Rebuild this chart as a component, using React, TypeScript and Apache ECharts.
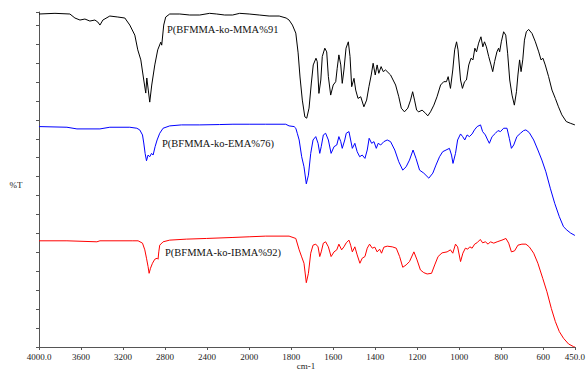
import React, { useEffect, useRef } from "react";
import * as echarts from "echarts";

// Tick marks of the (split-scale) wavenumber axis
const tickWavenumbers = [4000, 3600, 3200, 2800, 2400, 2000, 1800, 1600, 1400, 1200, 1000, 800, 600, 450];
const tickLabels = ["4000.0", "3600", "3200", "2800", "2400", "2000", "1800", "1600", "1400", "1200", "1000", "800", "600", "450.0"];

const seriesNames = ["P(BFMMA-ko-MMA%91", "P(BFMMA-ko-EMA%76)", "P(BFMMA-ko-IBMA%92)"];

// P(BFMMA-ko-MMA%91) – black
const wnMMA = [4000, 3848, 3706, 3658, 3610, 3563, 3516, 3468, 3440, 3420, 3392, 3326, 3250, 3183, 3136, 3088, 3060, 3031, 3003, 2984, 2974, 2960, 2946, 2927, 2898, 2870, 2841, 2832, 2813, 2794, 2756, 2660, 2566, 2470, 2376, 2309, 2233, 2157, 2090, 2000, 1952, 1905, 1857, 1824, 1810, 1794, 1778, 1767, 1758, 1747, 1735, 1726, 1715, 1704, 1695, 1682, 1676, 1668, 1659, 1652, 1640, 1631, 1623, 1612, 1600, 1588, 1581, 1573, 1564, 1557, 1549, 1539, 1528, 1520, 1512, 1501, 1493, 1482, 1469, 1454, 1441, 1430, 1419, 1410, 1400, 1391, 1383, 1372, 1362, 1351, 1327, 1303, 1288, 1276, 1261, 1245, 1232, 1222, 1213, 1203, 1193, 1177, 1161, 1150, 1137, 1121, 1106, 1089, 1074, 1061, 1053, 1042, 1031, 1022, 1013, 1006, 994, 985, 975, 966, 955, 944, 935, 926, 918, 908, 897, 888, 880, 871, 860, 849, 841, 832, 821, 813, 808, 800, 789, 779, 770, 760, 749, 738, 728, 721, 713, 706, 698, 690, 681, 670, 654, 638, 622, 611, 602, 591, 575, 559, 543, 528, 512, 491, 472, 450];
const tMMA = [99.4, 99.6, 99.4, 98.2, 97.6, 97.9, 97.3, 97.6, 97.0, 96.1, 97.6, 98.8, 98.5, 98.2, 96.1, 93.1, 88.7, 85.7, 79.7, 75.8, 80.3, 76.7, 73.1, 78.2, 84.2, 88.7, 91.0, 90.1, 96.1, 98.5, 99.4, 99.4, 99.1, 99.1, 99.6, 99.4, 99.1, 99.1, 99.6, 99.4, 99.1, 98.8, 98.8, 98.2, 97.6, 96.1, 93.7, 87.8, 80.6, 73.7, 68.7, 68.3, 71.3, 78.8, 84.2, 86.2, 85.2, 75.7, 79.7, 86.7, 89.2, 88.1, 80.7, 75.2, 78.2, 79.2, 83.2, 87.2, 84.2, 78.7, 82.7, 89.2, 91.1, 86.7, 77.7, 80.2, 76.7, 74.2, 74.7, 71.7, 73.7, 77.7, 81.2, 84.7, 81.2, 84.2, 81.7, 83.7, 82.2, 82.7, 81.2, 78.2, 74.7, 71.3, 70.2, 71.3, 73.7, 76.2, 73.7, 70.7, 70.2, 70.7, 69.8, 69.0, 70.2, 72.2, 74.7, 78.2, 79.2, 79.2, 80.7, 77.2, 82.7, 88.7, 91.1, 88.7, 79.7, 77.2, 79.2, 79.7, 84.2, 86.2, 85.7, 89.2, 88.1, 90.7, 92.6, 89.6, 91.1, 89.6, 86.7, 84.2, 82.2, 85.2, 88.1, 89.2, 88.1, 91.1, 94.1, 93.1, 87.7, 79.7, 75.2, 72.2, 76.2, 81.2, 85.7, 82.2, 85.7, 91.6, 94.1, 94.8, 93.6, 91.1, 88.1, 85.7, 86.2, 84.2, 80.7, 76.7, 74.2, 71.7, 69.3, 67.3, 66.8, 66.3];

// P(BFMMA-ko-EMA%76) – blue
const wnEMA = [4000, 3734, 3639, 3420, 3326, 3136, 3069, 3041, 3015, 3003, 2990, 2977, 2962, 2946, 2929, 2914, 2895, 2876, 2851, 2819, 2756, 2644, 2470, 2281, 2154, 2000, 1921, 1826, 1810, 1786, 1778, 1771, 1762, 1750, 1739, 1728, 1718, 1707, 1696, 1683, 1672, 1664, 1657, 1647, 1636, 1623, 1610, 1596, 1583, 1573, 1564, 1557, 1545, 1538, 1525, 1517, 1509, 1497, 1486, 1474, 1462, 1449, 1438, 1429, 1417, 1406, 1395, 1386, 1374, 1359, 1343, 1327, 1307, 1288, 1269, 1253, 1237, 1220, 1206, 1189, 1169, 1145, 1126, 1111, 1094, 1079, 1063, 1047, 1037, 1030, 1018, 1008, 994, 984, 974, 963, 952, 939, 928, 915, 899, 889, 876, 865, 857, 844, 828, 816, 804, 789, 773, 762, 752, 741, 726, 709, 694, 683, 667, 646, 626, 607, 588, 567, 546, 524, 504, 488, 470, 450];
const tEMA = [65.8, 65.6, 65.1, 65.1, 65.6, 65.6, 65.3, 64.8, 63.3, 60.9, 57.8, 55.6, 57.3, 56.8, 57.8, 57.3, 59.8, 61.8, 63.8, 65.3, 66.0, 66.3, 66.3, 66.4, 66.5, 66.5, 66.5, 66.5, 66.0, 65.8, 65.3, 63.8, 61.8, 56.8, 53.8, 48.7, 51.3, 57.8, 61.8, 62.8, 60.8, 57.8, 59.8, 63.3, 63.8, 61.8, 57.8, 59.8, 60.3, 62.8, 61.3, 59.3, 61.8, 63.8, 64.3, 61.8, 59.3, 60.8, 58.3, 56.8, 57.3, 56.3, 58.8, 62.3, 60.8, 61.3, 59.3, 60.8, 60.3, 61.3, 61.8, 61.3, 58.8, 55.3, 52.8, 53.8, 55.8, 58.8, 56.3, 52.8, 51.9, 50.4, 51.9, 54.3, 56.8, 58.3, 58.8, 59.3, 57.3, 54.8, 57.8, 61.8, 63.6, 62.8, 61.8, 63.3, 62.8, 63.6, 64.8, 65.8, 66.3, 64.3, 63.3, 61.8, 60.8, 62.8, 63.8, 64.6, 64.3, 65.3, 65.3, 62.3, 59.3, 60.3, 62.8, 63.8, 64.6, 64.8, 64.0, 61.8, 58.8, 55.8, 52.3, 47.4, 42.9, 38.9, 35.9, 34.9, 34.0, 33.3];

// P(BFMMA-ko-IBMA%92) – red
const wnIBMA = [4000, 3734, 3449, 3420, 3107, 3057, 3015, 2993, 2977, 2962, 2952, 2939, 2920, 2898, 2876, 2867, 2860, 2851, 2819, 2756, 2597, 2407, 2154, 2000, 1921, 1810, 1778, 1762, 1750, 1739, 1728, 1718, 1707, 1696, 1683, 1672, 1664, 1657, 1647, 1636, 1623, 1610, 1596, 1583, 1573, 1560, 1549, 1538, 1525, 1517, 1509, 1497, 1486, 1473, 1462, 1449, 1438, 1427, 1414, 1402, 1391, 1379, 1370, 1359, 1343, 1319, 1300, 1284, 1269, 1253, 1237, 1216, 1201, 1185, 1169, 1153, 1132, 1117, 1101, 1082, 1058, 1042, 1031, 1018, 1008, 994, 983, 971, 960, 950, 939, 927, 916, 900, 889, 876, 863, 852, 836, 820, 797, 778, 765, 752, 737, 721, 702, 683, 667, 646, 626, 603, 583, 562, 543, 524, 504, 480, 456, 450];
const tIBMA = [31.7, 31.7, 31.4, 31.7, 31.7, 31.7, 31.0, 29.0, 26.5, 24.0, 22.0, 23.5, 25.0, 26.2, 26.5, 26.2, 28.4, 30.4, 31.4, 31.9, 32.2, 32.4, 32.7, 32.9, 33.1, 33.1, 32.4, 29.0, 26.9, 25.0, 19.2, 22.0, 28.0, 30.4, 30.7, 29.9, 27.0, 28.4, 31.0, 31.4, 29.9, 27.0, 28.4, 29.0, 30.7, 29.0, 29.9, 31.1, 31.9, 30.4, 28.4, 29.9, 27.5, 25.0, 26.5, 27.0, 29.5, 30.7, 29.5, 29.8, 28.4, 29.2, 28.0, 29.8, 30.1, 29.9, 29.5, 27.0, 23.8, 24.5, 25.5, 28.4, 26.0, 23.0, 22.2, 21.8, 22.0, 24.5, 27.0, 28.1, 28.4, 29.0, 28.0, 30.7, 29.9, 25.5, 28.0, 29.5, 29.2, 29.9, 29.5, 30.7, 31.1, 32.1, 31.1, 31.4, 30.7, 31.4, 31.0, 31.4, 31.9, 32.4, 31.0, 28.4, 28.7, 30.4, 30.7, 30.7, 29.9, 28.0, 25.0, 20.5, 16.5, 11.5, 7.6, 4.6, 2.6, 0.9, 0.1, 0.0];

// split scale: above 2000 cm-1 the axis is compressed by a factor of 2
const toDisplay = (w: number) => (w > 2000 ? 2000 + (w - 2000) / 2 : w);
const tickDisplay = tickWavenumbers.map(toDisplay);

const FONT = "'Liberation Serif', 'DejaVu Serif', serif";

export default function App() {
  const ref = useRef<HTMLDivElement>(null);
  useEffect(() => {
    if (!ref.current) return;
    const chart = echarts.init(ref.current, undefined, { renderer: "svg" });
    const mk = (name: string, wn: number[], t: number[], color: string) => ({
      name,
      type: "line",
      data: wn.map((w, i) => [toDisplay(w), t[i]]),
      showSymbol: false,
      symbol: "none",
      lineStyle: { color, width: 1 },
      itemStyle: { color },
      silent: true,
    });
    chart.setOption({
      animation: false,
      backgroundColor: "#ffffff",
      grid: { left: 39, right: 12, top: 12, bottom: 23, containLabel: false },
      xAxis: {
        type: "value",
        min: 450,
        max: 3000,
        inverse: true,
        splitLine: { show: false },
        axisLine: { show: true, lineStyle: { color: "#555", width: 1 } },
        axisTick: { show: true, length: 3, customValues: tickDisplay, lineStyle: { color: "#555" } },
        axisLabel: {
          show: true,
          customValues: tickDisplay,
          margin: 5,
          color: "#222",
          fontSize: 9,
          fontFamily: FONT,
          formatter: (v: number) => {
            const i = tickDisplay.findIndex((d) => Math.abs(d - v) < 0.01);
            return i >= 0 ? tickLabels[i] : "";
          },
        },
      },
      yAxis: {
        type: "value",
        min: 0,
        max: 100,
        interval: 5.65,
        splitLine: { show: false },
        axisLine: { show: true, lineStyle: { color: "#555", width: 1 } },
        axisTick: { show: true, length: 3, lineStyle: { color: "#555" } },
        axisLabel: { show: false },
      },
      series: [
        mk(seriesNames[0], wnMMA, tMMA, "#000000"),
        mk(seriesNames[1], wnEMA, tEMA, "#0000ff"),
        mk(seriesNames[2], wnIBMA, tIBMA, "#ff0000"),
      ],
      graphic: [
        { type: "text", x: 167, y: 29, style: { text: seriesNames[0], fontSize: 10.5, fontFamily: FONT, fill: "#111", align: "left", verticalAlign: "middle" } },
        { type: "text", x: 162, y: 143, style: { text: seriesNames[1], fontSize: 10.5, fontFamily: FONT, fill: "#111", align: "left", verticalAlign: "middle" } },
        { type: "text", x: 165, y: 252, style: { text: seriesNames[2], fontSize: 10.5, fontFamily: FONT, fill: "#111", align: "left", verticalAlign: "middle" } },
        { type: "text", x: 16, y: 185, style: { text: "%T", fontSize: 9, fontFamily: FONT, fill: "#222", align: "center", verticalAlign: "middle" } },
        { type: "text", x: 306, y: 366, style: { text: "cm-1", fontSize: 9, fontFamily: FONT, fill: "#222", align: "center", verticalAlign: "middle" } },
      ],
    });
    return () => chart.dispose();
  }, []);
  return <div ref={ref} style={{ position: "absolute", left: 0, top: 0, width: 588, height: 370 }} />;
}
